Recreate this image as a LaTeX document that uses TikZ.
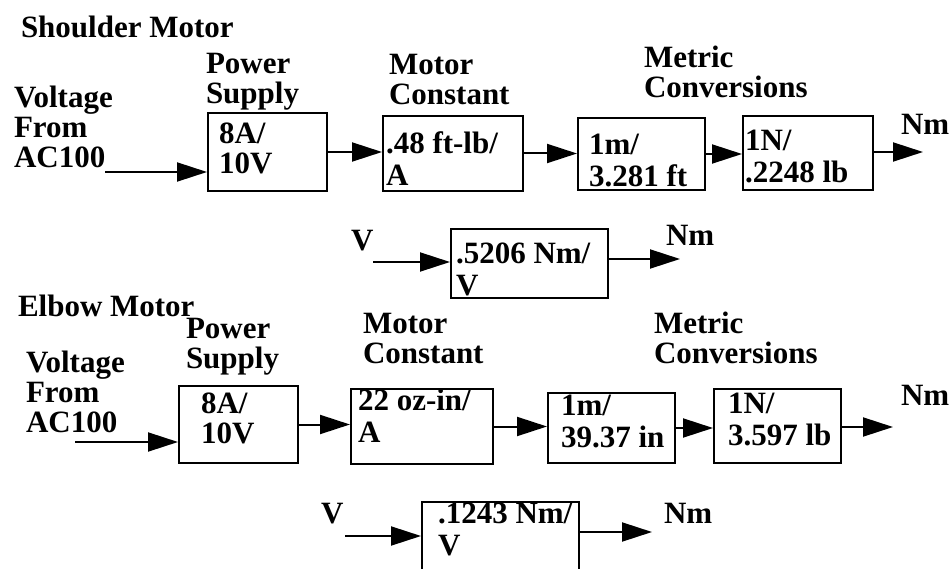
\documentclass[tikz,border=0pt]{standalone}
\usepackage{fontspec}
\setmainfont{Liberation Serif}
\usetikzlibrary{arrows.meta,positioning}

\begin{document}
\begin{tikzpicture}[x=1pt,y=-1pt,>={Triangle[length=30pt,width=19pt]},line width=2pt,
  every node/.style={font=\fontsize{31}{30}\selectfont\bfseries},
  txt/.style={anchor=north west,inner sep=0pt,align=left},
  btxt/.style={txt,font=\fontsize{31}{32}\selectfont\bfseries},
  blk/.style={draw,anchor=north west,inner sep=0pt}]
\useasboundingbox (0,0) rectangle (951,569);
% shoulder motor
\node[txt] (title1) at (20,15) {Shoulder Motor};
\node[txt] (vlt1) at (13,85) {Voltage\\From\\AC100};
\node[txt] (psl1) at (205,52) {Power\\Supply};
\node[txt] (mcl1) at (388,53) {Motor\\Constant};
\node[txt] (mtl1) at (643,45) {Metric\\Conversions};
\node[blk,minimum width=119pt,minimum height=78pt] (ps1) at (207,112) {};
\node[txt] (ps1t) at (218,122) {8A/\\10V};
\node[blk,minimum width=140pt,minimum height=75pt] (mc1) at (382,115) {};
\node[btxt] (mc1t) at (385,131) {.48 ft-lb/\\A};
\node[blk,minimum width=127pt,minimum height=72pt] (mm1) at (577,117) {};
\node[btxt] (mm1t) at (588,133) {1m/\\3.281 ft};
\node[blk,minimum width=130pt,minimum height=74pt] (nl1) at (742,115) {};
\node[btxt] (nl1t) at (744,129) {1N/\\.2248 lb};
\node[txt] (nm1) at (900,113) {Nm};
\coordinate (in1) at (105,172);
\coordinate (out1) at (923,152);
\draw[->] (in1) -- (in1 -| ps1.west);
\draw[->] (ps1.east) -- (ps1.east -| mc1.west);
\draw[->] (mc1.east) -- (mc1.east -| mm1.west);
\draw[->] (mm1.east) -- (mm1.east -| nl1.west);
\draw[->] (nl1.east |- out1) -- (out1);
% shoulder gain
\node[txt] (v3) at (350,229) {V};
\node[blk,minimum width=157pt,minimum height=69pt] (kv1) at (450,228) {};
\node[btxt] (kv1t) at (455,242) {.5206 Nm/\\V};
\node[txt] (nm3) at (665,224) {Nm};
\coordinate (in3) at (373,262);
\coordinate (out3) at (680,259);
\draw[->] (in3) -- (in3 -| kv1.west);
\draw[->] (out3 -| kv1.east) -- (out3);
% elbow motor
\node[txt] (title2) at (17,294) {Elbow Motor};
\node[txt] (vlt2) at (25,350) {Voltage\\From\\AC100};
\node[txt] (psl2) at (185,317) {Power\\Supply};
\node[txt] (mcl2) at (362,312) {Motor\\Constant};
\node[txt] (mtl2) at (653,311) {Metric\\Conversions};
\node[blk,minimum width=119pt,minimum height=77pt] (ps2) at (178,385) {};
\node[txt] (ps2t) at (200,392) {8A/\\10V};
\node[blk,minimum width=142pt,minimum height=75pt] (mc2) at (350,388) {};
\node[btxt] (mc2t) at (357,388) {22 oz-in/\\A};
\node[blk,minimum width=127pt,minimum height=70pt] (mm2) at (547,392) {};
\node[btxt] (mm2t) at (560,394) {1m/\\39.37 in};
\node[blk,minimum width=127pt,minimum height=74pt] (nl2) at (713,388) {};
\node[btxt] (nl2t) at (727,392) {1N/\\3.597 lb};
\node[txt] (nm2) at (900,384) {Nm};
\coordinate (in2) at (75,442);
\coordinate (out2) at (893,427);
\draw[->] (in2) -- (in2 -| ps2.west);
\draw[->] (ps2.east) -- (ps2.east -| mc2.west);
\draw[->] (mc2.east) -- (mc2.east -| mm2.west);
\draw[->] (mm2.east) -- (mm2.east -| nl2.west);
\draw[->] (nl2.east |- out2) -- (out2);
% elbow gain
\node[txt] (v4) at (320,502) {V};
\node[blk,minimum width=157pt,minimum height=100pt] (kv2) at (421,501) {};
\node[btxt] (kv2t) at (437,502) {.1243 Nm/\\V};
\node[txt] (nm4) at (663,502) {Nm};
\coordinate (in4) at (345,536);
\coordinate (out4) at (652,532);
\draw[->] (in4) -- (in4 -| kv2.west);
\draw[->] (out4 -| kv2.east) -- (out4);
\end{tikzpicture}
\end{document}
